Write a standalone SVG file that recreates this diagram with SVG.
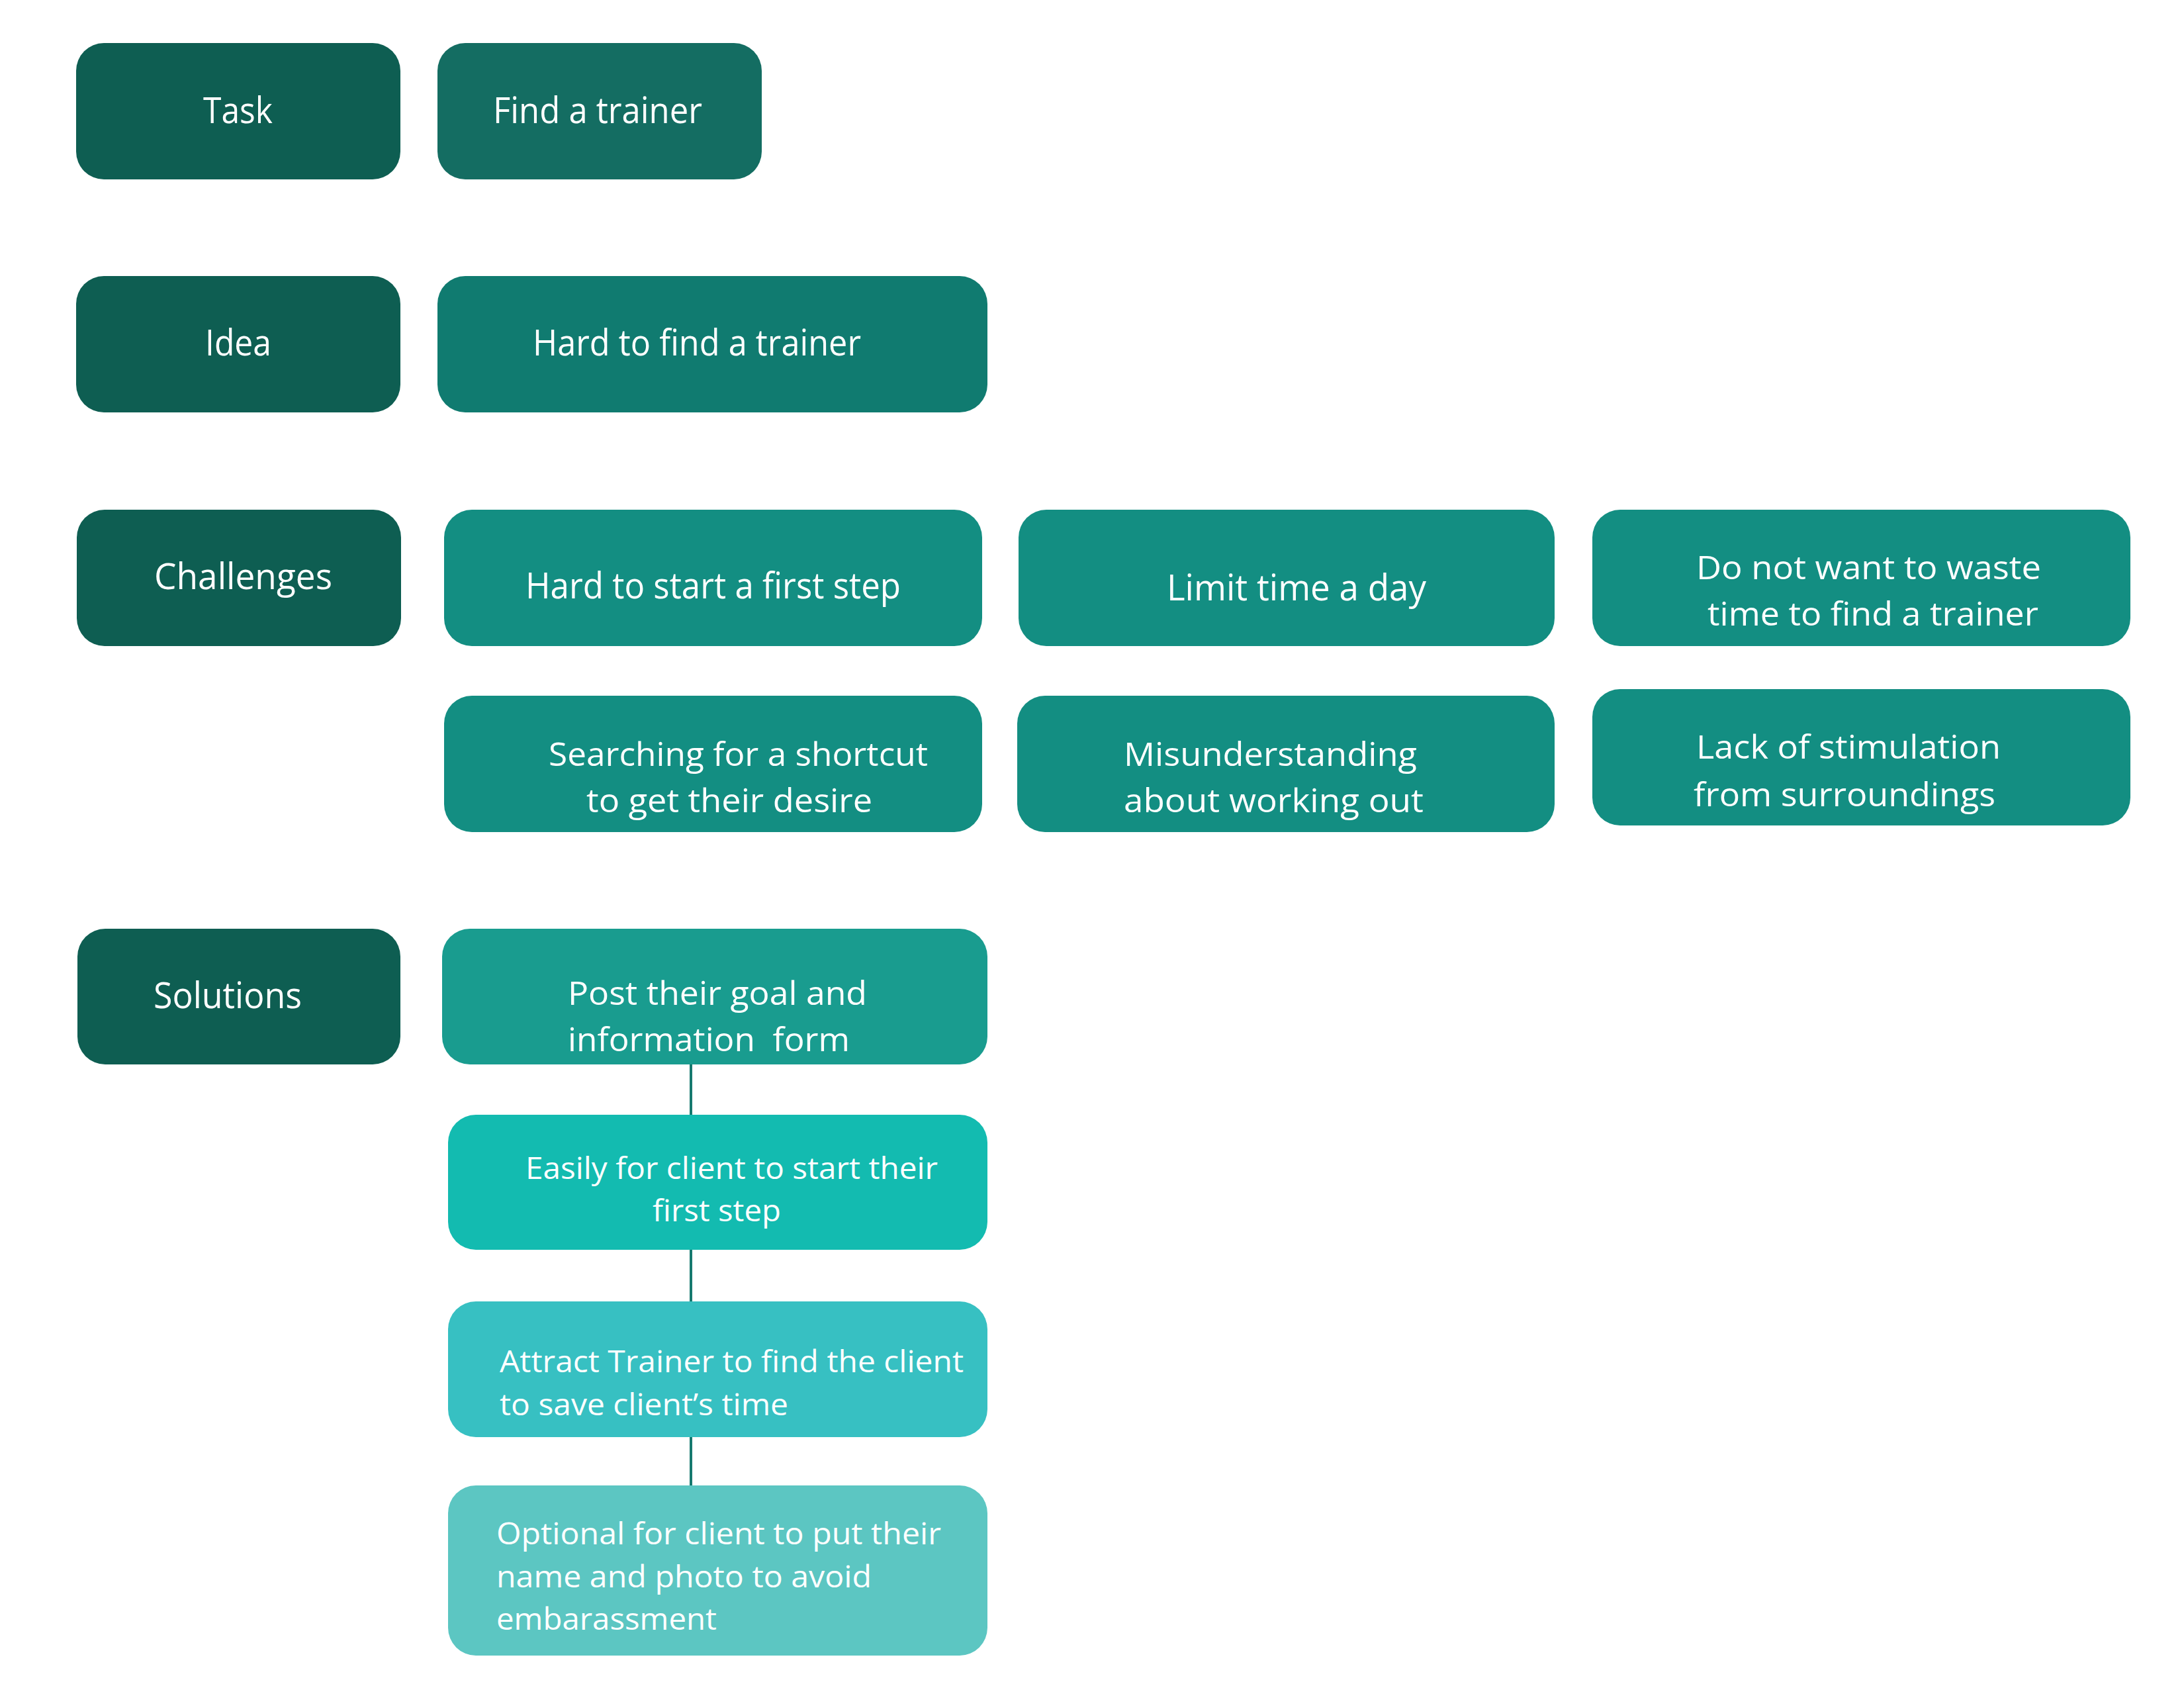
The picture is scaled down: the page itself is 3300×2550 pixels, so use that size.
<svg xmlns="http://www.w3.org/2000/svg" width="3300" height="2550" viewBox="0 0 3300 2550">
<style>
text{font-family:"Open Sans","Noto Sans","Liberation Sans",sans-serif;font-size:54px;fill:#ffffff}
.m{font-size:50px}
.s{font-size:46px}
.lab{fill:#0e5e52}
.c{fill:#138e82}
.conn{stroke:#16796f;stroke-width:4;fill:none}
</style>
<rect width="3300" height="2550" fill="#ffffff"/>
<g id="connectors">
<line class="conn" x1="1044" y1="1606" x2="1044" y2="1686"/>
<line class="conn" x1="1044" y1="1886" x2="1044" y2="1968"/>
<line class="conn" x1="1044" y1="2169" x2="1044" y2="2246"/>
</g>
<g id="task"><rect class="lab" x="115" y="65" width="490" height="206" rx="42"/><text x="307" y="186" textLength="105" lengthAdjust="spacingAndGlyphs">Task</text></g>
<g id="find-trainer"><rect x="661" y="65" width="490" height="206" rx="42" fill="#146d62"/><text x="745" y="186" textLength="316" lengthAdjust="spacingAndGlyphs">Find a trainer</text></g>
<g id="idea"><rect class="lab" x="115" y="417" width="490" height="206" rx="42"/><text x="310" y="537" textLength="100" lengthAdjust="spacingAndGlyphs">Idea</text></g>
<g id="hard-find"><rect x="661" y="417" width="831" height="206" rx="42" fill="#107b70"/><text x="805" y="537" textLength="496" lengthAdjust="spacingAndGlyphs">Hard to find a trainer</text></g>
<g id="challenges"><rect class="lab" x="116" y="770" width="490" height="206" rx="42"/><text x="233" y="890" textLength="269" lengthAdjust="spacingAndGlyphs">Challenges</text></g>
<g id="hard-start"><rect class="c" x="671" y="770" width="813" height="206" rx="42"/><text x="794" y="904" textLength="567" lengthAdjust="spacingAndGlyphs">Hard to start a first step</text></g>
<g id="limit-time"><rect class="c" x="1539" y="770" width="810" height="206" rx="42"/><text x="1763" y="907" textLength="392" lengthAdjust="spacingAndGlyphs">Limit time a day</text></g>
<g id="no-waste"><rect class="c" x="2406" y="770" width="813" height="206" rx="42"/><text class="m" x="2563" y="875" textLength="521" lengthAdjust="spacingAndGlyphs">Do not want to waste</text><text class="m" x="2580" y="945" textLength="500" lengthAdjust="spacingAndGlyphs">time to find a trainer</text></g>
<g id="shortcut"><rect class="c" x="671" y="1051" width="813" height="206" rx="42"/><text class="m" x="829" y="1157" textLength="573" lengthAdjust="spacingAndGlyphs">Searching for a shortcut</text><text class="m" x="886" y="1227" textLength="432" lengthAdjust="spacingAndGlyphs">to get their desire</text></g>
<g id="misunderstanding"><rect class="c" x="1537" y="1051" width="812" height="206" rx="42"/><text class="m" x="1698" y="1157" textLength="443" lengthAdjust="spacingAndGlyphs">Misunderstanding</text><text class="m" x="1698" y="1227" textLength="453" lengthAdjust="spacingAndGlyphs">about working out</text></g>
<g id="stimulation"><rect class="c" x="2406" y="1041" width="813" height="206" rx="42"/><text class="m" x="2563" y="1146" textLength="460" lengthAdjust="spacingAndGlyphs">Lack of stimulation</text><text class="m" x="2559" y="1218" textLength="456" lengthAdjust="spacingAndGlyphs">from surroundings</text></g>
<g id="solutions"><rect class="lab" x="117" y="1403" width="488" height="205" rx="42"/><text x="232" y="1523" textLength="224" lengthAdjust="spacingAndGlyphs">Solutions</text></g>
<g id="post-goal"><rect x="668" y="1403" width="824" height="205" rx="42" fill="#199c8f"/><text class="m" x="858" y="1518" textLength="452" lengthAdjust="spacingAndGlyphs">Post their goal and</text><text class="m" x="858" y="1588" textLength="426" lengthAdjust="spacingAndGlyphs" xml:space="preserve">information  form</text></g>
<g id="easily"><rect x="677" y="1684" width="815" height="204" rx="42" fill="#13bbb0"/><text class="s" x="794" y="1781" textLength="623" lengthAdjust="spacingAndGlyphs">Easily for client to start their</text><text class="s" x="986" y="1845" textLength="194" lengthAdjust="spacingAndGlyphs">first step</text></g>
<g id="attract"><rect x="677" y="1966" width="815" height="205" rx="42" fill="#37c0c2"/><text class="s" x="755" y="2073" textLength="701" lengthAdjust="spacingAndGlyphs">Attract Trainer to find the client</text><text class="s" x="755" y="2138" textLength="436" lengthAdjust="spacingAndGlyphs">to save client’s time</text></g>
<g id="optional"><rect x="677" y="2244" width="815" height="257" rx="42" fill="#5cc6c2"/><text class="s" x="750" y="2333" textLength="672" lengthAdjust="spacingAndGlyphs">Optional for client to put their</text><text class="s" x="750" y="2398" textLength="567" lengthAdjust="spacingAndGlyphs">name and photo to avoid</text><text class="s" x="750" y="2462" textLength="333" lengthAdjust="spacingAndGlyphs">embarassment</text></g>
</svg>
